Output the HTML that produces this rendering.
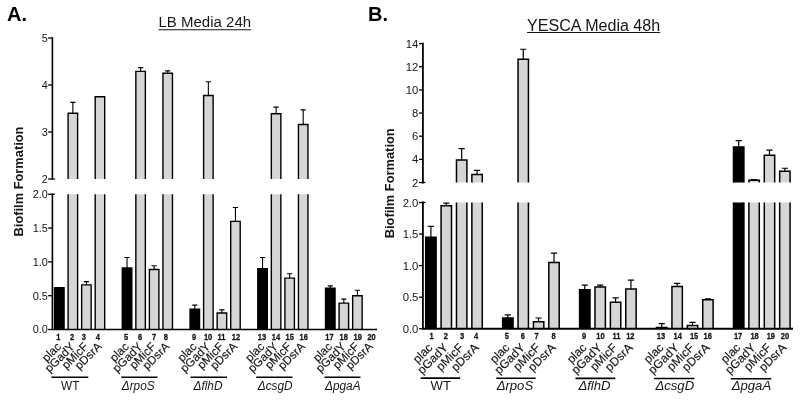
<!DOCTYPE html>
<html><head><meta charset="utf-8"><title>Biofilm Formation</title>
<style>
html,body{margin:0;padding:0;background:#fff;}
body{width:800px;height:401px;overflow:hidden;}
svg{display:block;will-change:transform;font-family:"Liberation Sans",sans-serif;}
</style></head><body>
<svg width="800" height="401" viewBox="0 0 800 401">
<rect width="800" height="401" fill="#fff"/>
<g id="chartA">
<rect x="54.55" y="287.59" width="9.5" height="41.91" fill="#000"/>
<path d="M54.55 329.5L54.55 287.59L64.05 287.59L64.05 329.5" fill="none" stroke="#000" stroke-width="1.4" stroke-linejoin="miter"/>
<rect x="68.1" y="194.25" width="9.5" height="135.25" fill="#d6d6d6"/>
<path d="M68.1 329.5L68.1 194.25M77.6 194.25L77.6 329.5" fill="none" stroke="#000" stroke-width="1.4" stroke-linejoin="miter"/>
<rect x="68.1" y="113.2" width="9.5" height="65.8" fill="#d6d6d6"/>
<path d="M68.1 179L68.1 113.2L77.6 113.2L77.6 179" fill="none" stroke="#000" stroke-width="1.4" stroke-linejoin="miter"/>
<path d="M72.85 113.2L72.85 102.39M70.25 102.39L75.45 102.39" fill="none" stroke="#000" stroke-width="1.1"/>
<rect x="81.65" y="284.88" width="9.5" height="44.62" fill="#d6d6d6"/>
<path d="M81.65 329.5L81.65 284.88L91.15 284.88L91.15 329.5" fill="none" stroke="#000" stroke-width="1.4" stroke-linejoin="miter"/>
<path d="M86.4 284.88L86.4 281.64M83.8 281.64L89 281.64" fill="none" stroke="#000" stroke-width="1.1"/>
<rect x="95.2" y="194.25" width="9.5" height="135.25" fill="#d6d6d6"/>
<path d="M95.2 329.5L95.2 194.25M104.7 194.25L104.7 329.5" fill="none" stroke="#000" stroke-width="1.4" stroke-linejoin="miter"/>
<rect x="95.2" y="96.75" width="9.5" height="82.25" fill="#d6d6d6"/>
<path d="M95.2 179L95.2 96.75L104.7 96.75L104.7 179" fill="none" stroke="#000" stroke-width="1.4" stroke-linejoin="miter"/>
<rect x="122.3" y="267.98" width="9.5" height="61.52" fill="#000"/>
<path d="M122.3 329.5L122.3 267.98L131.8 267.98L131.8 329.5" fill="none" stroke="#000" stroke-width="1.4" stroke-linejoin="miter"/>
<path d="M127.05 267.98L127.05 257.51M124.45 257.51L129.65 257.51" fill="none" stroke="#000" stroke-width="1.1"/>
<rect x="135.85" y="194.25" width="9.5" height="135.25" fill="#d6d6d6"/>
<path d="M135.85 329.5L135.85 194.25M145.35 194.25L145.35 329.5" fill="none" stroke="#000" stroke-width="1.4" stroke-linejoin="miter"/>
<rect x="135.85" y="71.37" width="9.5" height="107.63" fill="#d6d6d6"/>
<path d="M135.85 179L135.85 71.37L145.35 71.37L145.35 179" fill="none" stroke="#000" stroke-width="1.4" stroke-linejoin="miter"/>
<path d="M140.6 71.37L140.6 67.61M138 67.61L143.2 67.61" fill="none" stroke="#000" stroke-width="1.1"/>
<rect x="149.4" y="269.54" width="9.5" height="59.96" fill="#d6d6d6"/>
<path d="M149.4 329.5L149.4 269.54L158.9 269.54L158.9 329.5" fill="none" stroke="#000" stroke-width="1.4" stroke-linejoin="miter"/>
<path d="M154.15 269.54L154.15 265.75M151.55 265.75L156.75 265.75" fill="none" stroke="#000" stroke-width="1.1"/>
<rect x="162.95" y="194.25" width="9.5" height="135.25" fill="#d6d6d6"/>
<path d="M162.95 329.5L162.95 194.25M172.45 194.25L172.45 329.5" fill="none" stroke="#000" stroke-width="1.4" stroke-linejoin="miter"/>
<rect x="162.95" y="73.25" width="9.5" height="105.75" fill="#d6d6d6"/>
<path d="M162.95 179L162.95 73.25L172.45 73.25L172.45 179" fill="none" stroke="#000" stroke-width="1.4" stroke-linejoin="miter"/>
<path d="M167.7 73.25L167.7 70.9M165.1 70.9L170.3 70.9" fill="none" stroke="#000" stroke-width="1.1"/>
<rect x="190.05" y="309.22" width="9.5" height="20.28" fill="#000"/>
<path d="M190.05 329.5L190.05 309.22L199.55 309.22L199.55 329.5" fill="none" stroke="#000" stroke-width="1.4" stroke-linejoin="miter"/>
<path d="M194.8 309.22L194.8 305.16M192.2 305.16L197.4 305.16" fill="none" stroke="#000" stroke-width="1.1"/>
<rect x="203.6" y="194.25" width="9.5" height="135.25" fill="#d6d6d6"/>
<path d="M203.6 329.5L203.6 194.25M213.1 194.25L213.1 329.5" fill="none" stroke="#000" stroke-width="1.4" stroke-linejoin="miter"/>
<rect x="203.6" y="95.48" width="9.5" height="83.52" fill="#d6d6d6"/>
<path d="M203.6 179L203.6 95.48L213.1 95.48L213.1 179" fill="none" stroke="#000" stroke-width="1.4" stroke-linejoin="miter"/>
<path d="M208.35 95.48L208.35 81.71M205.75 81.71L210.95 81.71" fill="none" stroke="#000" stroke-width="1.1"/>
<rect x="217.15" y="312.94" width="9.5" height="16.56" fill="#d6d6d6"/>
<path d="M217.15 329.5L217.15 312.94L226.65 312.94L226.65 329.5" fill="none" stroke="#000" stroke-width="1.4" stroke-linejoin="miter"/>
<path d="M221.9 312.94L221.9 309.9M219.3 309.9L224.5 309.9" fill="none" stroke="#000" stroke-width="1.1"/>
<rect x="230.7" y="221.34" width="9.5" height="108.16" fill="#d6d6d6"/>
<path d="M230.7 329.5L230.7 221.34L240.2 221.34L240.2 329.5" fill="none" stroke="#000" stroke-width="1.4" stroke-linejoin="miter"/>
<path d="M235.45 221.34L235.45 207.48M232.85 207.48L238.05 207.48" fill="none" stroke="#000" stroke-width="1.1"/>
<rect x="257.8" y="268.66" width="9.5" height="60.84" fill="#000"/>
<path d="M257.8 329.5L257.8 268.66L267.3 268.66L267.3 329.5" fill="none" stroke="#000" stroke-width="1.4" stroke-linejoin="miter"/>
<path d="M262.55 268.66L262.55 257.51M259.95 257.51L265.15 257.51" fill="none" stroke="#000" stroke-width="1.1"/>
<rect x="271.35" y="194.25" width="9.5" height="135.25" fill="#d6d6d6"/>
<path d="M271.35 329.5L271.35 194.25M280.85 194.25L280.85 329.5" fill="none" stroke="#000" stroke-width="1.4" stroke-linejoin="miter"/>
<rect x="271.35" y="113.76" width="9.5" height="65.24" fill="#d6d6d6"/>
<path d="M271.35 179L271.35 113.76L280.85 113.76L280.85 179" fill="none" stroke="#000" stroke-width="1.4" stroke-linejoin="miter"/>
<path d="M276.1 113.76L276.1 107.09M273.5 107.09L278.7 107.09" fill="none" stroke="#000" stroke-width="1.1"/>
<rect x="284.9" y="278.12" width="9.5" height="51.38" fill="#d6d6d6"/>
<path d="M284.9 329.5L284.9 278.12L294.4 278.12L294.4 329.5" fill="none" stroke="#000" stroke-width="1.4" stroke-linejoin="miter"/>
<path d="M289.65 278.12L289.65 273.73M287.05 273.73L292.25 273.73" fill="none" stroke="#000" stroke-width="1.1"/>
<rect x="298.45" y="194.25" width="9.5" height="135.25" fill="#d6d6d6"/>
<path d="M298.45 329.5L298.45 194.25M307.95 194.25L307.95 329.5" fill="none" stroke="#000" stroke-width="1.4" stroke-linejoin="miter"/>
<rect x="298.45" y="124.48" width="9.5" height="54.52" fill="#d6d6d6"/>
<path d="M298.45 179L298.45 124.48L307.95 124.48L307.95 179" fill="none" stroke="#000" stroke-width="1.4" stroke-linejoin="miter"/>
<path d="M303.2 124.48L303.2 109.91M300.6 109.91L305.8 109.91" fill="none" stroke="#000" stroke-width="1.1"/>
<rect x="325.55" y="288.26" width="9.5" height="41.24" fill="#000"/>
<path d="M325.55 329.5L325.55 288.26L335.05 288.26L335.05 329.5" fill="none" stroke="#000" stroke-width="1.4" stroke-linejoin="miter"/>
<path d="M330.3 288.26L330.3 285.9M327.7 285.9L332.9 285.9" fill="none" stroke="#000" stroke-width="1.1"/>
<rect x="339.1" y="303.14" width="9.5" height="26.36" fill="#d6d6d6"/>
<path d="M339.1 329.5L339.1 303.14L348.6 303.14L348.6 329.5" fill="none" stroke="#000" stroke-width="1.4" stroke-linejoin="miter"/>
<path d="M343.85 303.14L343.85 299.08M341.25 299.08L346.45 299.08" fill="none" stroke="#000" stroke-width="1.1"/>
<rect x="352.65" y="295.7" width="9.5" height="33.8" fill="#d6d6d6"/>
<path d="M352.65 329.5L352.65 295.7L362.15 295.7L362.15 329.5" fill="none" stroke="#000" stroke-width="1.4" stroke-linejoin="miter"/>
<path d="M357.4 295.7L357.4 290.29M354.8 290.29L360 290.29" fill="none" stroke="#000" stroke-width="1.1"/>
<path d="M52.4 37.2L52.4 179.8M52.4 193.45L52.4 330.3M52.4 329.5L377 329.5" fill="none" stroke="#000" stroke-width="1.6"/>
<path d="M48.1 38L52.4 38" stroke="#000" stroke-width="1.3"/>
<text x="47.9" y="41.85" font-size="10.9" text-anchor="end" fill="#151515">5</text>
<path d="M48.1 85L52.4 85" stroke="#000" stroke-width="1.3"/>
<text x="47.9" y="88.85" font-size="10.9" text-anchor="end" fill="#151515">4</text>
<path d="M48.1 132L52.4 132" stroke="#000" stroke-width="1.3"/>
<text x="47.9" y="135.85" font-size="10.9" text-anchor="end" fill="#151515">3</text>
<path d="M48.1 179L54.9 179" stroke="#000" stroke-width="1.3"/>
<text x="47.9" y="182.85" font-size="10.9" text-anchor="end" fill="#151515">2</text>
<path d="M48.1 194.25L54.9 194.25" stroke="#000" stroke-width="1.3"/>
<text x="47.9" y="198.1" font-size="10.9" text-anchor="end" fill="#151515">2.0</text>
<path d="M48.1 228.05L52.4 228.05" stroke="#000" stroke-width="1.3"/>
<text x="47.9" y="231.9" font-size="10.9" text-anchor="end" fill="#151515">1.5</text>
<path d="M48.1 261.9L52.4 261.9" stroke="#000" stroke-width="1.3"/>
<text x="47.9" y="265.75" font-size="10.9" text-anchor="end" fill="#151515">1.0</text>
<path d="M48.1 295.7L52.4 295.7" stroke="#000" stroke-width="1.3"/>
<text x="47.9" y="299.55" font-size="10.9" text-anchor="end" fill="#151515">0.5</text>
<path d="M48.1 329.5L52.4 329.5" stroke="#000" stroke-width="1.3"/>
<text x="47.9" y="333.35" font-size="10.9" text-anchor="end" fill="#151515">0.0</text>
<text transform="translate(58.4 339.5) scale(0.8 1)" font-size="9.4" font-weight="bold" text-anchor="middle" fill="#151515" stroke="#151515" stroke-width="0.3">1</text>
<text transform="translate(72.1 339.5) scale(0.8 1)" font-size="9.4" font-weight="bold" text-anchor="middle" fill="#151515" stroke="#151515" stroke-width="0.3">2</text>
<text transform="translate(83.8 339.5) scale(0.8 1)" font-size="9.4" font-weight="bold" text-anchor="middle" fill="#151515" stroke="#151515" stroke-width="0.3">3</text>
<text transform="translate(97.9 339.5) scale(0.8 1)" font-size="9.4" font-weight="bold" text-anchor="middle" fill="#151515" stroke="#151515" stroke-width="0.3">4</text>
<text transform="translate(126.05 339.5) scale(0.8 1)" font-size="9.4" font-weight="bold" text-anchor="middle" fill="#151515" stroke="#151515" stroke-width="0.3">5</text>
<text transform="translate(140.2 339.5) scale(0.8 1)" font-size="9.4" font-weight="bold" text-anchor="middle" fill="#151515" stroke="#151515" stroke-width="0.3">6</text>
<text transform="translate(154 339.5) scale(0.8 1)" font-size="9.4" font-weight="bold" text-anchor="middle" fill="#151515" stroke="#151515" stroke-width="0.3">7</text>
<text transform="translate(165.9 339.5) scale(0.8 1)" font-size="9.4" font-weight="bold" text-anchor="middle" fill="#151515" stroke="#151515" stroke-width="0.3">8</text>
<text transform="translate(194.1 339.5) scale(0.8 1)" font-size="9.4" font-weight="bold" text-anchor="middle" fill="#151515" stroke="#151515" stroke-width="0.3">9</text>
<text transform="translate(208.1 339.5) scale(0.8 1)" font-size="9.4" font-weight="bold" text-anchor="middle" fill="#151515" stroke="#151515" stroke-width="0.3">10</text>
<text transform="translate(221.4 339.5) scale(0.8 1)" font-size="9.4" font-weight="bold" text-anchor="middle" fill="#151515" stroke="#151515" stroke-width="0.3">11</text>
<text transform="translate(236.05 339.5) scale(0.8 1)" font-size="9.4" font-weight="bold" text-anchor="middle" fill="#151515" stroke="#151515" stroke-width="0.3">12</text>
<text transform="translate(261.9 339.5) scale(0.8 1)" font-size="9.4" font-weight="bold" text-anchor="middle" fill="#151515" stroke="#151515" stroke-width="0.3">13</text>
<text transform="translate(275.9 339.5) scale(0.8 1)" font-size="9.4" font-weight="bold" text-anchor="middle" fill="#151515" stroke="#151515" stroke-width="0.3">14</text>
<text transform="translate(289.7 339.5) scale(0.8 1)" font-size="9.4" font-weight="bold" text-anchor="middle" fill="#151515" stroke="#151515" stroke-width="0.3">15</text>
<text transform="translate(303.7 339.5) scale(0.8 1)" font-size="9.4" font-weight="bold" text-anchor="middle" fill="#151515" stroke="#151515" stroke-width="0.3">16</text>
<text transform="translate(329.4 339.5) scale(0.8 1)" font-size="9.4" font-weight="bold" text-anchor="middle" fill="#151515" stroke="#151515" stroke-width="0.3">17</text>
<text transform="translate(343.7 339.5) scale(0.8 1)" font-size="9.4" font-weight="bold" text-anchor="middle" fill="#151515" stroke="#151515" stroke-width="0.3">18</text>
<text transform="translate(357.7 339.5) scale(0.8 1)" font-size="9.4" font-weight="bold" text-anchor="middle" fill="#151515" stroke="#151515" stroke-width="0.3">19</text>
<text transform="translate(371.6 339.5) scale(0.8 1)" font-size="9.4" font-weight="bold" text-anchor="middle" fill="#151515" stroke="#151515" stroke-width="0.3">20</text>
<text transform="translate(61.8 347.3) rotate(-45)" font-size="11.7" text-anchor="end" fill="#151515" stroke="#151515" stroke-width="0.15">plac</text>
<text transform="translate(75.35 347.3) rotate(-45)" font-size="11.7" text-anchor="end" fill="#151515" stroke="#151515" stroke-width="0.15">pGadY</text>
<text transform="translate(88.9 347.3) rotate(-45)" font-size="11.7" text-anchor="end" fill="#151515" stroke="#151515" stroke-width="0.15">pMicF</text>
<text transform="translate(102.45 347.3) rotate(-45)" font-size="11.7" text-anchor="end" fill="#151515" stroke="#151515" stroke-width="0.15">pDsrA</text>
<text transform="translate(129.55 347.3) rotate(-45)" font-size="11.7" text-anchor="end" fill="#151515" stroke="#151515" stroke-width="0.15">plac</text>
<text transform="translate(143.1 347.3) rotate(-45)" font-size="11.7" text-anchor="end" fill="#151515" stroke="#151515" stroke-width="0.15">pGadY</text>
<text transform="translate(156.65 347.3) rotate(-45)" font-size="11.7" text-anchor="end" fill="#151515" stroke="#151515" stroke-width="0.15">pMicF</text>
<text transform="translate(170.2 347.3) rotate(-45)" font-size="11.7" text-anchor="end" fill="#151515" stroke="#151515" stroke-width="0.15">pDsrA</text>
<text transform="translate(197.3 347.3) rotate(-45)" font-size="11.7" text-anchor="end" fill="#151515" stroke="#151515" stroke-width="0.15">plac</text>
<text transform="translate(210.85 347.3) rotate(-45)" font-size="11.7" text-anchor="end" fill="#151515" stroke="#151515" stroke-width="0.15">pGadY</text>
<text transform="translate(224.4 347.3) rotate(-45)" font-size="11.7" text-anchor="end" fill="#151515" stroke="#151515" stroke-width="0.15">pMicF</text>
<text transform="translate(237.95 347.3) rotate(-45)" font-size="11.7" text-anchor="end" fill="#151515" stroke="#151515" stroke-width="0.15">pDsrA</text>
<text transform="translate(265.05 347.3) rotate(-45)" font-size="11.7" text-anchor="end" fill="#151515" stroke="#151515" stroke-width="0.15">plac</text>
<text transform="translate(278.6 347.3) rotate(-45)" font-size="11.7" text-anchor="end" fill="#151515" stroke="#151515" stroke-width="0.15">pGadY</text>
<text transform="translate(292.15 347.3) rotate(-45)" font-size="11.7" text-anchor="end" fill="#151515" stroke="#151515" stroke-width="0.15">pMicF</text>
<text transform="translate(305.7 347.3) rotate(-45)" font-size="11.7" text-anchor="end" fill="#151515" stroke="#151515" stroke-width="0.15">pDsrA</text>
<text transform="translate(332.8 347.3) rotate(-45)" font-size="11.7" text-anchor="end" fill="#151515" stroke="#151515" stroke-width="0.15">plac</text>
<text transform="translate(346.35 347.3) rotate(-45)" font-size="11.7" text-anchor="end" fill="#151515" stroke="#151515" stroke-width="0.15">pGadY</text>
<text transform="translate(359.9 347.3) rotate(-45)" font-size="11.7" text-anchor="end" fill="#151515" stroke="#151515" stroke-width="0.15">pMicF</text>
<text transform="translate(373.45 347.3) rotate(-45)" font-size="11.7" text-anchor="end" fill="#151515" stroke="#151515" stroke-width="0.15">pDsrA</text>
<path d="M51.4 377.3L88.25 377.3" stroke="#000" stroke-width="1.6"/>
<text transform="translate(70.23 389.9) scale(0.89 1)" font-size="13.3" text-anchor="middle" fill="#151515">WT</text>
<path d="M121.25 377.3L157.5 377.3" stroke="#000" stroke-width="1.6"/>
<text transform="translate(138.18 389.9) scale(0.89 1)" font-size="13.3" text-anchor="middle" fill="#151515"><tspan font-style="italic">&#916;rpoS</tspan></text>
<path d="M190.5 377.3L227 377.3" stroke="#000" stroke-width="1.6"/>
<text transform="translate(207.95 389.9) scale(0.89 1)" font-size="13.3" text-anchor="middle" fill="#151515"><tspan font-style="italic">&#916;flhD</tspan></text>
<path d="M256.25 377.3L292.5 377.3" stroke="#000" stroke-width="1.6"/>
<text transform="translate(275.18 389.9) scale(0.89 1)" font-size="13.3" text-anchor="middle" fill="#151515"><tspan font-style="italic">&#916;csgD</tspan></text>
<path d="M324.5 377.3L360.5 377.3" stroke="#000" stroke-width="1.6"/>
<text transform="translate(342.8 389.9) scale(0.89 1)" font-size="13.3" text-anchor="middle" fill="#151515"><tspan font-style="italic">&#916;pgaA</tspan></text>
<text transform="translate(23.3 181.5) rotate(-90)" font-size="12.85" font-weight="bold" text-anchor="middle" fill="#151515">Biofilm Formation</text>
<text x="158.5" y="27" font-size="14" textLength="92.6" lengthAdjust="spacingAndGlyphs" fill="#151515">LB Media 24h</text>
<path d="M158.5 29.7L251.1 29.7" stroke="#151515" stroke-width="1.1"/>
<text x="7" y="21.4" font-size="20" font-weight="bold" fill="#000">A.</text>
</g>
<g id="chartB">
<rect x="425.7" y="237.25" width="10.4" height="91.5" fill="#000"/>
<path d="M425.7 328.75L425.7 237.25L436.1 237.25L436.1 328.75" fill="none" stroke="#000" stroke-width="1.5" stroke-linejoin="miter"/>
<path d="M430.9 237.25L430.9 226.28M427.8 226.28L434 226.28" fill="none" stroke="#000" stroke-width="1.2"/>
<rect x="441.09" y="205.7" width="10.4" height="123.05" fill="#d6d6d6"/>
<path d="M441.09 328.75L441.09 205.7L451.49 205.7L451.49 328.75" fill="none" stroke="#000" stroke-width="1.5" stroke-linejoin="miter"/>
<path d="M446.29 205.7L446.29 203.18M443.19 203.18L449.39 203.18" fill="none" stroke="#000" stroke-width="1.2"/>
<rect x="456.48" y="202.5" width="10.4" height="126.25" fill="#d6d6d6"/>
<path d="M456.48 328.75L456.48 202.5M466.88 202.5L466.88 328.75" fill="none" stroke="#000" stroke-width="1.5" stroke-linejoin="miter"/>
<rect x="456.48" y="160.04" width="10.4" height="22.46" fill="#d6d6d6"/>
<path d="M456.48 182.5L456.48 160.04L466.88 160.04L466.88 182.5" fill="none" stroke="#000" stroke-width="1.5" stroke-linejoin="miter"/>
<path d="M461.68 160.04L461.68 148.7M458.58 148.7L464.78 148.7" fill="none" stroke="#000" stroke-width="1.2"/>
<rect x="471.87" y="202.5" width="10.4" height="126.25" fill="#d6d6d6"/>
<path d="M471.87 328.75L471.87 202.5M482.27 202.5L482.27 328.75" fill="none" stroke="#000" stroke-width="1.5" stroke-linejoin="miter"/>
<rect x="471.87" y="174.51" width="10.4" height="7.99" fill="#d6d6d6"/>
<path d="M471.87 182.5L471.87 174.51L482.27 174.51L482.27 182.5" fill="none" stroke="#000" stroke-width="1.5" stroke-linejoin="miter"/>
<path d="M477.07 174.51L477.07 170.46M473.97 170.46L480.17 170.46" fill="none" stroke="#000" stroke-width="1.2"/>
<rect x="502.65" y="318.02" width="10.4" height="10.73" fill="#000"/>
<path d="M502.65 328.75L502.65 318.02L513.05 318.02L513.05 328.75" fill="none" stroke="#000" stroke-width="1.5" stroke-linejoin="miter"/>
<path d="M507.85 318.02L507.85 314.87M504.75 314.87L510.95 314.87" fill="none" stroke="#000" stroke-width="1.2"/>
<rect x="518.04" y="202.5" width="10.4" height="126.25" fill="#d6d6d6"/>
<path d="M518.04 328.75L518.04 202.5M528.44 202.5L528.44 328.75" fill="none" stroke="#000" stroke-width="1.5" stroke-linejoin="miter"/>
<rect x="518.04" y="59.23" width="10.4" height="123.27" fill="#d6d6d6"/>
<path d="M518.04 182.5L518.04 59.23L528.44 59.23L528.44 182.5" fill="none" stroke="#000" stroke-width="1.5" stroke-linejoin="miter"/>
<path d="M523.24 59.23L523.24 49.27M520.14 49.27L526.34 49.27" fill="none" stroke="#000" stroke-width="1.2"/>
<rect x="533.43" y="321.81" width="10.4" height="6.94" fill="#d6d6d6"/>
<path d="M533.43 328.75L533.43 321.81L543.83 321.81L543.83 328.75" fill="none" stroke="#000" stroke-width="1.5" stroke-linejoin="miter"/>
<path d="M538.63 321.81L538.63 318.02M535.53 318.02L541.73 318.02" fill="none" stroke="#000" stroke-width="1.2"/>
<rect x="548.82" y="262.5" width="10.4" height="66.25" fill="#d6d6d6"/>
<path d="M548.82 328.75L548.82 262.5L559.22 262.5L559.22 328.75" fill="none" stroke="#000" stroke-width="1.5" stroke-linejoin="miter"/>
<path d="M554.02 262.5L554.02 253.03M550.92 253.03L557.12 253.03" fill="none" stroke="#000" stroke-width="1.2"/>
<rect x="579.6" y="289.63" width="10.4" height="39.12" fill="#000"/>
<path d="M579.6 328.75L579.6 289.63L590 289.63L590 328.75" fill="none" stroke="#000" stroke-width="1.5" stroke-linejoin="miter"/>
<path d="M584.8 289.63L584.8 285.21M581.7 285.21L587.9 285.21" fill="none" stroke="#000" stroke-width="1.2"/>
<rect x="594.99" y="287.1" width="10.4" height="41.65" fill="#d6d6d6"/>
<path d="M594.99 328.75L594.99 287.1L605.39 287.1L605.39 328.75" fill="none" stroke="#000" stroke-width="1.5" stroke-linejoin="miter"/>
<path d="M600.19 287.1L600.19 285.21M597.09 285.21L603.29 285.21" fill="none" stroke="#000" stroke-width="1.2"/>
<rect x="610.38" y="302.25" width="10.4" height="26.5" fill="#d6d6d6"/>
<path d="M610.38 328.75L610.38 302.25L620.78 302.25L620.78 328.75" fill="none" stroke="#000" stroke-width="1.5" stroke-linejoin="miter"/>
<path d="M615.58 302.25L615.58 297.83M612.48 297.83L618.68 297.83" fill="none" stroke="#000" stroke-width="1.2"/>
<rect x="625.77" y="289" width="10.4" height="39.75" fill="#d6d6d6"/>
<path d="M625.77 328.75L625.77 289L636.17 289L636.17 328.75" fill="none" stroke="#000" stroke-width="1.5" stroke-linejoin="miter"/>
<path d="M630.97 289L630.97 280.16M627.87 280.16L634.07 280.16" fill="none" stroke="#000" stroke-width="1.2"/>
<rect x="656.55" y="327.49" width="10.4" height="1.26" fill="#000"/>
<path d="M656.55 328.75L656.55 327.49L666.95 327.49L666.95 328.75" fill="none" stroke="#000" stroke-width="1.5" stroke-linejoin="miter"/>
<path d="M661.75 327.49L661.75 323.7M658.65 323.7L664.85 323.7" fill="none" stroke="#000" stroke-width="1.2"/>
<rect x="671.94" y="286.47" width="10.4" height="42.28" fill="#d6d6d6"/>
<path d="M671.94 328.75L671.94 286.47L682.34 286.47L682.34 328.75" fill="none" stroke="#000" stroke-width="1.5" stroke-linejoin="miter"/>
<path d="M677.14 286.47L677.14 283.32M674.04 283.32L680.24 283.32" fill="none" stroke="#000" stroke-width="1.2"/>
<rect x="687.33" y="325.6" width="10.4" height="3.15" fill="#d6d6d6"/>
<path d="M687.33 328.75L687.33 325.6L697.73 325.6L697.73 328.75" fill="none" stroke="#000" stroke-width="1.5" stroke-linejoin="miter"/>
<path d="M692.53 325.6L692.53 322.44M689.43 322.44L695.63 322.44" fill="none" stroke="#000" stroke-width="1.2"/>
<rect x="702.72" y="299.72" width="10.4" height="29.03" fill="#d6d6d6"/>
<path d="M702.72 328.75L702.72 299.72L713.12 299.72L713.12 328.75" fill="none" stroke="#000" stroke-width="1.5" stroke-linejoin="miter"/>
<path d="M707.92 299.72L707.92 298.78M704.82 298.78L711.02 298.78" fill="none" stroke="#000" stroke-width="1.2"/>
<rect x="733.5" y="202.5" width="10.4" height="126.25" fill="#000"/>
<path d="M733.5 328.75L733.5 202.5M743.9 202.5L743.9 328.75" fill="none" stroke="#000" stroke-width="1.5" stroke-linejoin="miter"/>
<rect x="733.5" y="146.96" width="10.4" height="35.54" fill="#000"/>
<path d="M733.5 182.5L733.5 146.96L743.9 146.96L743.9 182.5" fill="none" stroke="#000" stroke-width="1.5" stroke-linejoin="miter"/>
<path d="M738.7 146.96L738.7 140.71M735.6 140.71L741.8 140.71" fill="none" stroke="#000" stroke-width="1.2"/>
<rect x="748.89" y="202.5" width="10.4" height="126.25" fill="#d6d6d6"/>
<path d="M748.89 328.75L748.89 202.5M759.29 202.5L759.29 328.75" fill="none" stroke="#000" stroke-width="1.5" stroke-linejoin="miter"/>
<rect x="748.89" y="180.19" width="10.4" height="2.31" fill="#d6d6d6"/>
<path d="M748.89 182.5L748.89 180.19L759.29 180.19L759.29 182.5" fill="none" stroke="#000" stroke-width="1.5" stroke-linejoin="miter"/>
<path d="M754.09 180.19L754.09 179.49M750.99 179.49L757.19 179.49" fill="none" stroke="#000" stroke-width="1.2"/>
<rect x="764.28" y="202.5" width="10.4" height="126.25" fill="#d6d6d6"/>
<path d="M764.28 328.75L764.28 202.5M774.68 202.5L774.68 328.75" fill="none" stroke="#000" stroke-width="1.5" stroke-linejoin="miter"/>
<rect x="764.28" y="155.3" width="10.4" height="27.2" fill="#d6d6d6"/>
<path d="M764.28 182.5L764.28 155.3L774.68 155.3L774.68 182.5" fill="none" stroke="#000" stroke-width="1.5" stroke-linejoin="miter"/>
<path d="M769.48 155.3L769.48 150.09M766.38 150.09L772.58 150.09" fill="none" stroke="#000" stroke-width="1.2"/>
<rect x="779.67" y="202.5" width="10.4" height="126.25" fill="#d6d6d6"/>
<path d="M779.67 328.75L779.67 202.5M790.07 202.5L790.07 328.75" fill="none" stroke="#000" stroke-width="1.5" stroke-linejoin="miter"/>
<rect x="779.67" y="171.27" width="10.4" height="11.23" fill="#d6d6d6"/>
<path d="M779.67 182.5L779.67 171.27L790.07 171.27L790.07 182.5" fill="none" stroke="#000" stroke-width="1.5" stroke-linejoin="miter"/>
<path d="M784.87 171.27L784.87 168.26M781.77 168.26L787.97 168.26" fill="none" stroke="#000" stroke-width="1.2"/>
<path d="M422.9 42.7L422.9 183.4M422.9 201.6L422.9 329.65M422.9 328.75L793 328.75" fill="none" stroke="#000" stroke-width="1.8"/>
<path d="M419 43.6L422.9 43.6" stroke="#000" stroke-width="1.3"/>
<text x="418.4" y="47.6" font-size="11.3" text-anchor="end" fill="#151515">14</text>
<path d="M419 66.75L422.9 66.75" stroke="#000" stroke-width="1.3"/>
<text x="418.4" y="70.75" font-size="11.3" text-anchor="end" fill="#151515">12</text>
<path d="M419 89.9L422.9 89.9" stroke="#000" stroke-width="1.3"/>
<text x="418.4" y="93.9" font-size="11.3" text-anchor="end" fill="#151515">10</text>
<path d="M419 113.05L422.9 113.05" stroke="#000" stroke-width="1.3"/>
<text x="418.4" y="117.05" font-size="11.3" text-anchor="end" fill="#151515">8</text>
<path d="M419 136.2L422.9 136.2" stroke="#000" stroke-width="1.3"/>
<text x="418.4" y="140.2" font-size="11.3" text-anchor="end" fill="#151515">6</text>
<path d="M419 159.35L422.9 159.35" stroke="#000" stroke-width="1.3"/>
<text x="418.4" y="163.35" font-size="11.3" text-anchor="end" fill="#151515">4</text>
<path d="M419 182.5L425.4 182.5" stroke="#000" stroke-width="1.3"/>
<text x="418.4" y="186.5" font-size="11.3" text-anchor="end" fill="#151515">2</text>
<path d="M419 202.5L425.4 202.5" stroke="#000" stroke-width="1.3"/>
<text x="418.4" y="206.5" font-size="11.3" text-anchor="end" fill="#151515">2.0</text>
<path d="M419 234.06L422.9 234.06" stroke="#000" stroke-width="1.3"/>
<text x="418.4" y="238.06" font-size="11.3" text-anchor="end" fill="#151515">1.5</text>
<path d="M419 265.6L422.9 265.6" stroke="#000" stroke-width="1.3"/>
<text x="418.4" y="269.6" font-size="11.3" text-anchor="end" fill="#151515">1.0</text>
<path d="M419 297.2L422.9 297.2" stroke="#000" stroke-width="1.3"/>
<text x="418.4" y="301.2" font-size="11.3" text-anchor="end" fill="#151515">0.5</text>
<path d="M419 328.75L422.9 328.75" stroke="#000" stroke-width="1.3"/>
<text x="418.4" y="332.75" font-size="11.3" text-anchor="end" fill="#151515">0.0</text>
<text transform="translate(431.7 339.3) scale(0.8 1)" font-size="9.4" font-weight="bold" text-anchor="middle" fill="#151515" stroke="#151515" stroke-width="0.3">1</text>
<text transform="translate(445.79 339.3) scale(0.8 1)" font-size="9.4" font-weight="bold" text-anchor="middle" fill="#151515" stroke="#151515" stroke-width="0.3">2</text>
<text transform="translate(462.18 339.3) scale(0.8 1)" font-size="9.4" font-weight="bold" text-anchor="middle" fill="#151515" stroke="#151515" stroke-width="0.3">3</text>
<text transform="translate(476.07 339.3) scale(0.8 1)" font-size="9.4" font-weight="bold" text-anchor="middle" fill="#151515" stroke="#151515" stroke-width="0.3">4</text>
<text transform="translate(506.8 339.3) scale(0.8 1)" font-size="9.4" font-weight="bold" text-anchor="middle" fill="#151515" stroke="#151515" stroke-width="0.3">5</text>
<text transform="translate(522.79 339.3) scale(0.8 1)" font-size="9.4" font-weight="bold" text-anchor="middle" fill="#151515" stroke="#151515" stroke-width="0.3">6</text>
<text transform="translate(536.63 339.3) scale(0.8 1)" font-size="9.4" font-weight="bold" text-anchor="middle" fill="#151515" stroke="#151515" stroke-width="0.3">7</text>
<text transform="translate(553.52 339.3) scale(0.8 1)" font-size="9.4" font-weight="bold" text-anchor="middle" fill="#151515" stroke="#151515" stroke-width="0.3">8</text>
<text transform="translate(584.1 339.3) scale(0.8 1)" font-size="9.4" font-weight="bold" text-anchor="middle" fill="#151515" stroke="#151515" stroke-width="0.3">9</text>
<text transform="translate(600.39 339.3) scale(0.8 1)" font-size="9.4" font-weight="bold" text-anchor="middle" fill="#151515" stroke="#151515" stroke-width="0.3">10</text>
<text transform="translate(616.48 339.3) scale(0.8 1)" font-size="9.4" font-weight="bold" text-anchor="middle" fill="#151515" stroke="#151515" stroke-width="0.3">11</text>
<text transform="translate(630.37 339.3) scale(0.8 1)" font-size="9.4" font-weight="bold" text-anchor="middle" fill="#151515" stroke="#151515" stroke-width="0.3">12</text>
<text transform="translate(660.9 339.3) scale(0.8 1)" font-size="9.4" font-weight="bold" text-anchor="middle" fill="#151515" stroke="#151515" stroke-width="0.3">13</text>
<text transform="translate(677.64 339.3) scale(0.8 1)" font-size="9.4" font-weight="bold" text-anchor="middle" fill="#151515" stroke="#151515" stroke-width="0.3">14</text>
<text transform="translate(694.13 339.3) scale(0.8 1)" font-size="9.4" font-weight="bold" text-anchor="middle" fill="#151515" stroke="#151515" stroke-width="0.3">15</text>
<text transform="translate(707.77 339.3) scale(0.8 1)" font-size="9.4" font-weight="bold" text-anchor="middle" fill="#151515" stroke="#151515" stroke-width="0.3">16</text>
<text transform="translate(738.1 339.3) scale(0.8 1)" font-size="9.4" font-weight="bold" text-anchor="middle" fill="#151515" stroke="#151515" stroke-width="0.3">17</text>
<text transform="translate(754.59 339.3) scale(0.8 1)" font-size="9.4" font-weight="bold" text-anchor="middle" fill="#151515" stroke="#151515" stroke-width="0.3">18</text>
<text transform="translate(770.88 339.3) scale(0.8 1)" font-size="9.4" font-weight="bold" text-anchor="middle" fill="#151515" stroke="#151515" stroke-width="0.3">19</text>
<text transform="translate(784.97 339.3) scale(0.8 1)" font-size="9.4" font-weight="bold" text-anchor="middle" fill="#151515" stroke="#151515" stroke-width="0.3">20</text>
<text transform="translate(433.3 348.4) rotate(-45)" font-size="12.0" text-anchor="end" fill="#151515" stroke="#151515" stroke-width="0.15">plac</text>
<text transform="translate(448.69 348.4) rotate(-45)" font-size="12.0" text-anchor="end" fill="#151515" stroke="#151515" stroke-width="0.15">pGadY</text>
<text transform="translate(464.08 348.4) rotate(-45)" font-size="12.0" text-anchor="end" fill="#151515" stroke="#151515" stroke-width="0.15">pMicF</text>
<text transform="translate(479.47 348.4) rotate(-45)" font-size="12.0" text-anchor="end" fill="#151515" stroke="#151515" stroke-width="0.15">pDsrA</text>
<text transform="translate(510.25 348.4) rotate(-45)" font-size="12.0" text-anchor="end" fill="#151515" stroke="#151515" stroke-width="0.15">plac</text>
<text transform="translate(525.64 348.4) rotate(-45)" font-size="12.0" text-anchor="end" fill="#151515" stroke="#151515" stroke-width="0.15">pGadY</text>
<text transform="translate(541.03 348.4) rotate(-45)" font-size="12.0" text-anchor="end" fill="#151515" stroke="#151515" stroke-width="0.15">pMicF</text>
<text transform="translate(556.42 348.4) rotate(-45)" font-size="12.0" text-anchor="end" fill="#151515" stroke="#151515" stroke-width="0.15">pDsrA</text>
<text transform="translate(587.2 348.4) rotate(-45)" font-size="12.0" text-anchor="end" fill="#151515" stroke="#151515" stroke-width="0.15">plac</text>
<text transform="translate(602.59 348.4) rotate(-45)" font-size="12.0" text-anchor="end" fill="#151515" stroke="#151515" stroke-width="0.15">pGadY</text>
<text transform="translate(617.98 348.4) rotate(-45)" font-size="12.0" text-anchor="end" fill="#151515" stroke="#151515" stroke-width="0.15">pMicF</text>
<text transform="translate(633.37 348.4) rotate(-45)" font-size="12.0" text-anchor="end" fill="#151515" stroke="#151515" stroke-width="0.15">pDsrA</text>
<text transform="translate(664.15 348.4) rotate(-45)" font-size="12.0" text-anchor="end" fill="#151515" stroke="#151515" stroke-width="0.15">plac</text>
<text transform="translate(679.54 348.4) rotate(-45)" font-size="12.0" text-anchor="end" fill="#151515" stroke="#151515" stroke-width="0.15">pGadY</text>
<text transform="translate(694.93 348.4) rotate(-45)" font-size="12.0" text-anchor="end" fill="#151515" stroke="#151515" stroke-width="0.15">pMicF</text>
<text transform="translate(710.32 348.4) rotate(-45)" font-size="12.0" text-anchor="end" fill="#151515" stroke="#151515" stroke-width="0.15">pDsrA</text>
<text transform="translate(741.1 348.4) rotate(-45)" font-size="12.0" text-anchor="end" fill="#151515" stroke="#151515" stroke-width="0.15">plac</text>
<text transform="translate(756.49 348.4) rotate(-45)" font-size="12.0" text-anchor="end" fill="#151515" stroke="#151515" stroke-width="0.15">pGadY</text>
<text transform="translate(771.88 348.4) rotate(-45)" font-size="12.0" text-anchor="end" fill="#151515" stroke="#151515" stroke-width="0.15">pMicF</text>
<text transform="translate(787.27 348.4) rotate(-45)" font-size="12.0" text-anchor="end" fill="#151515" stroke="#151515" stroke-width="0.15">pDsrA</text>
<path d="M420.7 378.1L460.1 378.1" stroke="#000" stroke-width="1.6"/>
<text transform="translate(440.7 389.7) scale(0.98 1)" font-size="13.4" text-anchor="middle" fill="#151515">WT</text>
<path d="M496.25 378.2L535.75 378.2" stroke="#000" stroke-width="1.6"/>
<text transform="translate(514.9 389.7) scale(0.98 1)" font-size="13.4" text-anchor="middle" fill="#151515"><tspan font-style="italic">&#916;rpoS</tspan></text>
<path d="M575.5 378.4L615.4 378.4" stroke="#000" stroke-width="1.6"/>
<text transform="translate(594.45 389.7) scale(0.98 1)" font-size="13.4" text-anchor="middle" fill="#151515"><tspan font-style="italic">&#916;flhD</tspan></text>
<path d="M654 378.5L694.5 378.5" stroke="#000" stroke-width="1.6"/>
<text transform="translate(674.75 389.7) scale(0.98 1)" font-size="13.4" text-anchor="middle" fill="#151515"><tspan font-style="italic">&#916;csgD</tspan></text>
<path d="M730.8 378.7L771.3 378.7" stroke="#000" stroke-width="1.6"/>
<text transform="translate(751.45 389.7) scale(0.98 1)" font-size="13.4" text-anchor="middle" fill="#151515"><tspan font-style="italic">&#916;pgaA</tspan></text>
<text transform="translate(393.5 183.3) rotate(-90)" font-size="12.85" font-weight="bold" text-anchor="middle" fill="#151515">Biofilm Formation</text>
<text x="527.1" y="30.7" font-size="15.6" textLength="133.1" lengthAdjust="spacingAndGlyphs" fill="#151515">YESCA Media 48h</text>
<path d="M527.1 32.5L660.2 32.5" stroke="#151515" stroke-width="1.1"/>
<text x="368" y="21.4" font-size="20" font-weight="bold" fill="#000">B.</text>
</g>
</svg>
</body></html>
